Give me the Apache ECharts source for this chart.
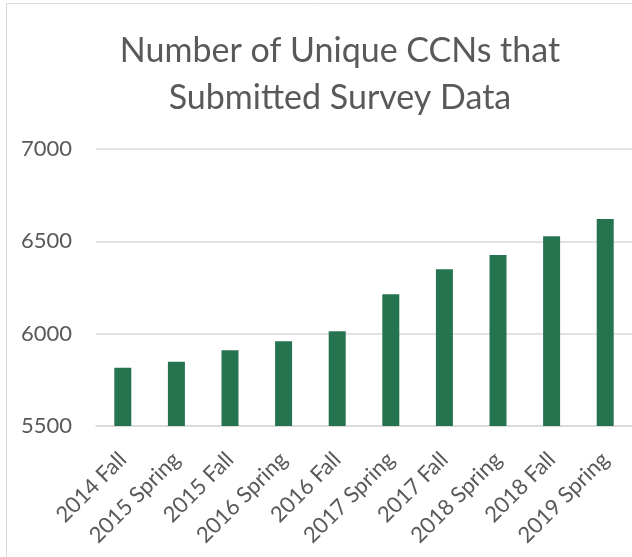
<!DOCTYPE html>
<html>
<head>
<meta charset="utf-8">
<script src="https://cdn.jsdelivr.net/npm/echarts@6/dist/echarts.min.js"></script>
<style>
  html, body { margin: 0; padding: 0; background: #fff; }
  #chart { width: 632px; height: 557px; }
</style>
</head>
<body>
<div id="chart"></div>
<script>
const titleText = 'Number of Unique CCNs that\nSubmitted Survey Data';
const terms = ['2014 Fall', '2015 Spring', '2015 Fall', '2016 Spring', '2016 Fall',
               '2017 Spring', '2017 Fall', '2018 Spring', '2018 Fall', '2019 Spring'];
const ccnCounts = [5816, 5848, 5910, 5959, 6013, 6213, 6349, 6426, 6528, 6621];
const yTicks = [5500, 6000, 6500, 7000];

const chart = echarts.init(document.getElementById('chart'));

chart.setOption({
    animation: false,
    textStyle: { fontFamily: 'Lato' },
    graphic: [{
        type: 'rect',
        shape: { x: 6.5, y: 3.5, width: 800, height: 800 },
        style: { fill: 'none', stroke: '#d9d9d9', lineWidth: 1 }
    }],
    title: {
        text: titleText,
        left: 335,
        textAlign: 'center',
        top: 23,
        textStyle: {
            fontFamily: 'Lato',
            fontWeight: 'normal',
            fontSize: 34,
            lineHeight: 47,
            color: '#595959'
        }
    },
    grid: { left: 96, right: -2, top: 149, bottom: 131 },
    xAxis: {
        type: 'category',
        data: terms,
        axisLine: { lineStyle: { color: '#d9d9d9', width: 1.5 } },
        axisTick: { show: false },
        axisLabel: {
            rotate: 45,
            interval: 0,
            margin: 30,
            fontSize: 22,
            color: '#595959'
        }
    },
    yAxis: {
        type: 'value',
        min: yTicks[0],
        max: yTicks[yTicks.length - 1],
        interval: 500,
        axisLine: { show: false },
        axisTick: { show: false },
        splitLine: { lineStyle: { color: '#d9d9d9', width: 1.5 } },
        axisLabel: {
            fontSize: 22,
            color: '#595959',
            margin: 24,
            formatter: v => String(v)
        }
    },
    series: [{
        type: 'bar',
        data: ccnCounts,
        barWidth: 17,
        itemStyle: { color: '#267350' }
    }]
});
</script>
</body>
</html>
